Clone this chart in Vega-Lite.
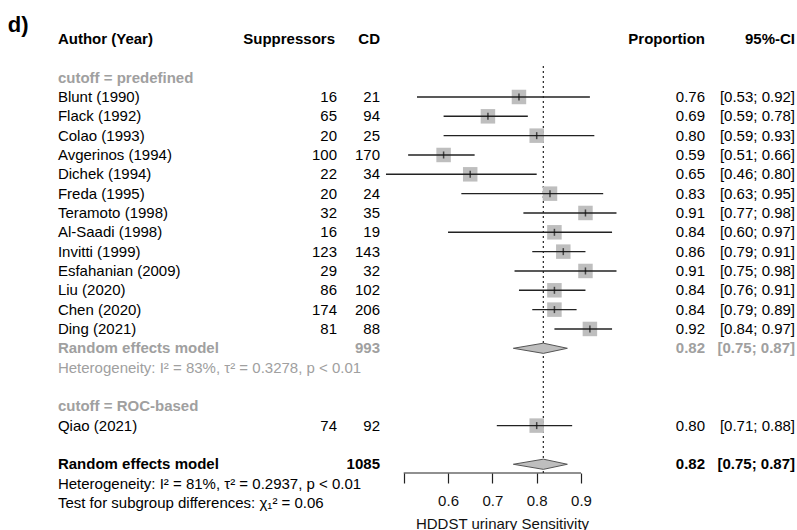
{
  "$schema": "https://vega.github.io/schema/vega-lite/v6.json",
  "autosize": {"type": "none"},
  "width": 797,
  "height": 473,
  "padding": {"left": 0, "top": 0, "right": 0, "bottom": 57},
  "background": "white",
  "config": {
    "view": {"stroke": null},
    "text": {"font": "Liberation Sans", "fontSize": 15, "baseline": "middle"},
    "axis": {"labelFont": "Liberation Sans", "titleFont": "Liberation Sans", "labelFontSize": 15, "titleFontSize": 15, "labelColor": "#111", "titleColor": "#111", "titleFontWeight": "normal"}
  },
  "datasets": {
    "rows": [
      {"row": 0, "grp": "header", "author": "Author (Year)", "sup": "Suppressors", "cd": "CD", "prop": "Proportion", "ci": "95%-CI"},
      {"row": 2, "grp": "subhead", "author": "cutoff = predefined", "sup": "", "cd": "", "prop": "", "ci": ""},
      {"row": 3, "grp": "study", "author": "Blunt (1990)", "sup": "16", "cd": "21", "prop": "0.76", "ci": "[0.53; 0.92]", "est": 0.76, "lo": 0.53, "hi": 0.92},
      {"row": 4, "grp": "study", "author": "Flack (1992)", "sup": "65", "cd": "94", "prop": "0.69", "ci": "[0.59; 0.78]", "est": 0.69, "lo": 0.59, "hi": 0.78},
      {"row": 5, "grp": "study", "author": "Colao (1993)", "sup": "20", "cd": "25", "prop": "0.80", "ci": "[0.59; 0.93]", "est": 0.80, "lo": 0.59, "hi": 0.93},
      {"row": 6, "grp": "study", "author": "Avgerinos (1994)", "sup": "100", "cd": "170", "prop": "0.59", "ci": "[0.51; 0.66]", "est": 0.59, "lo": 0.51, "hi": 0.66},
      {"row": 7, "grp": "study", "author": "Dichek (1994)", "sup": "22", "cd": "34", "prop": "0.65", "ci": "[0.46; 0.80]", "est": 0.65, "lo": 0.46, "hi": 0.80},
      {"row": 8, "grp": "study", "author": "Freda (1995)", "sup": "20", "cd": "24", "prop": "0.83", "ci": "[0.63; 0.95]", "est": 0.83, "lo": 0.63, "hi": 0.95},
      {"row": 9, "grp": "study", "author": "Teramoto (1998)", "sup": "32", "cd": "35", "prop": "0.91", "ci": "[0.77; 0.98]", "est": 0.91, "lo": 0.77, "hi": 0.98},
      {"row": 10, "grp": "study", "author": "Al-Saadi (1998)", "sup": "16", "cd": "19", "prop": "0.84", "ci": "[0.60; 0.97]", "est": 0.84, "lo": 0.60, "hi": 0.97},
      {"row": 11, "grp": "study", "author": "Invitti (1999)", "sup": "123", "cd": "143", "prop": "0.86", "ci": "[0.79; 0.91]", "est": 0.86, "lo": 0.79, "hi": 0.91},
      {"row": 12, "grp": "study", "author": "Esfahanian (2009)", "sup": "29", "cd": "32", "prop": "0.91", "ci": "[0.75; 0.98]", "est": 0.91, "lo": 0.75, "hi": 0.98},
      {"row": 13, "grp": "study", "author": "Liu (2020)", "sup": "86", "cd": "102", "prop": "0.84", "ci": "[0.76; 0.91]", "est": 0.84, "lo": 0.76, "hi": 0.91},
      {"row": 14, "grp": "study", "author": "Chen (2020)", "sup": "174", "cd": "206", "prop": "0.84", "ci": "[0.79; 0.89]", "est": 0.84, "lo": 0.79, "hi": 0.89},
      {"row": 15, "grp": "study", "author": "Ding (2021)", "sup": "81", "cd": "88", "prop": "0.92", "ci": "[0.84; 0.97]", "est": 0.92, "lo": 0.84, "hi": 0.97},
      {"row": 16, "grp": "re_sub", "author": "Random effects model", "sup": "", "cd": "993", "prop": "0.82", "ci": "[0.75; 0.87]", "est": 0.815, "lo": 0.75, "hi": 0.87},
      {"row": 17, "grp": "het_sub", "author": "Heterogeneity: I² = 83%, τ² = 0.3278, p < 0.01", "sup": "", "cd": "", "prop": "", "ci": ""},
      {"row": 19, "grp": "subhead", "author": "cutoff = ROC-based", "sup": "", "cd": "", "prop": "", "ci": ""},
      {"row": 20, "grp": "study", "author": "Qiao (2021)", "sup": "74", "cd": "92", "prop": "0.80", "ci": "[0.71; 0.88]", "est": 0.80, "lo": 0.71, "hi": 0.88},
      {"row": 22, "grp": "re_all", "author": "Random effects model", "sup": "", "cd": "1085", "prop": "0.82", "ci": "[0.75; 0.87]", "est": 0.815, "lo": 0.75, "hi": 0.87},
      {"row": 23, "grp": "het_all", "author": "Heterogeneity: I² = 81%, τ² = 0.2937, p < 0.01", "sup": "", "cd": "", "prop": "", "ci": ""},
      {"row": 24, "grp": "het_all", "author": "Test for subgroup differences: χ₁² = 0.06", "sup": "", "cd": "", "prop": "", "ci": ""}
    ]
  },
  "data": {"name": "rows"},
  "layer": [
    {
      "data": {"values": [{"tag": "d)"}]},
      "mark": {"type": "rule", "strokeDash": [2, 3], "color": "#333", "strokeWidth": 1.3},
      "encoding": {
        "x": {"datum": 0.815, "type": "quantitative", "scale": {"domain": [-0.4107, 1.3872], "nice": false, "zero": false}},
        "y": {"datum": 1.4, "type": "quantitative", "scale": {"domain": [-2.0176, 22.452], "reverse": true, "nice": false, "zero": false}, "axis": null},
        "y2": {"datum": 22.452}
      }
    },
    {
      "data": {"values": [{"tag": "d)"}]},
      "mark": {"type": "rule", "color": "#222", "strokeWidth": 1.2},
      "encoding": {
        "x": {"datum": 0.5, "type": "quantitative"},
        "x2": {"datum": 0.9},
        "y": {"datum": 22.452, "type": "quantitative", "axis": null}
      }
    },
    {
      "data": {"values": [{"tag": "d)"}]},
      "mark": {"type": "text", "align": "left", "fontWeight": "bold", "fontSize": 22, "color": "#000"},
      "encoding": {"text": {"field": "tag", "type": "nominal"}, "x": {"datum": -0.393, "type": "quantitative"}, "y": {"datum": -0.7, "type": "quantitative", "axis": null}}
    },
    {
      "transform": [{"filter": {"field": "grp", "equal": "study"}}],
      "mark": {"type": "point", "shape": "square", "filled": true, "color": "#BEBEBE", "opacity": 1, "size": 210},
      "encoding": {"x": {"field": "est", "type": "quantitative"}, "y": {"field": "row", "type": "quantitative", "axis": null}}
    },
    {
      "transform": [{"filter": {"field": "grp", "equal": "study"}}],
      "mark": {"type": "rule", "color": "#222", "strokeWidth": 1.4},
      "encoding": {
        "x": {"field": "lo", "type": "quantitative", "axis": {"values": [0.5, 0.6, 0.7, 0.8, 0.9], "labelExpr": "datum.value < 0.55 ? '' : format(datum.value, '.1f')", "domain": false, "grid": false, "tickSize": 10, "tickColor": "#222", "tickWidth": 1.2, "labelFontSize": 15, "labelColor": "#111", "labelPadding": 10, "title": "HDDST urinary Sensitivity", "titleFontSize": 15, "titleFontWeight": "normal", "titleColor": "#111", "titleX": 502, "titleY": 50, "titleAlign": "center", "titleBaseline": "middle"}},
        "x2": {"field": "hi"},
        "y": {"field": "row", "type": "quantitative", "axis": null}
      }
    },
    {
      "transform": [{"filter": {"field": "grp", "equal": "study"}}],
      "mark": {"type": "tick", "orient": "vertical", "color": "#111", "size": 7, "thickness": 1.5},
      "encoding": {"x": {"field": "est", "type": "quantitative"}, "y": {"field": "row", "type": "quantitative", "axis": null}}
    },
    {
      "transform": [{"filter": {"field": "grp", "oneOf": ["re_sub", "re_all"]}}],
      "mark": {"type": "point", "shape": "M -1 0 L 0 -0.17 L 0.8 0 L 0 0.17 Z", "filled": true, "fill": "#BEBEBE", "stroke": "#555", "strokeWidth": 1, "opacity": 1, "size": 3600},
      "encoding": {"x": {"field": "est", "type": "quantitative"}, "y": {"field": "row", "type": "quantitative", "axis": null}}
    },
    {
      "transform": [{"filter": {"field": "grp", "oneOf": ["header", "subhead", "re_sub", "re_all"]}}],
      "mark": {"type": "text", "align": "left", "fontWeight": "bold"},
      "encoding": {"text": {"field": "author", "type": "nominal"}, "x": {"datum": -0.28, "type": "quantitative"}, "y": {"field": "row", "type": "quantitative", "axis": null},
        "color": {"field": "grp", "type": "nominal", "legend": null, "scale": {"domain": ["header", "study", "subhead", "re_sub", "het_sub", "re_all", "het_all"], "range": ["#000", "#000", "#A0A0A0", "#A0A0A0", "#A0A0A0", "#000", "#000"]}}}
    },
    {
      "transform": [{"filter": {"field": "grp", "oneOf": ["header", "subhead", "re_sub", "re_all"]}}],
      "mark": {"type": "text", "align": "right", "fontWeight": "bold"},
      "encoding": {"text": {"field": "sup", "type": "nominal"}, "x": {"datum": 0.345, "type": "quantitative"}, "y": {"field": "row", "type": "quantitative", "axis": null},
        "color": {"field": "grp", "type": "nominal", "legend": null}}
    },
    {
      "transform": [{"filter": {"field": "grp", "oneOf": ["header", "subhead", "re_sub", "re_all"]}}],
      "mark": {"type": "text", "align": "right", "fontWeight": "bold"},
      "encoding": {"text": {"field": "cd", "type": "nominal"}, "x": {"datum": 0.4465, "type": "quantitative"}, "y": {"field": "row", "type": "quantitative", "axis": null},
        "color": {"field": "grp", "type": "nominal", "legend": null}}
    },
    {
      "transform": [{"filter": {"field": "grp", "oneOf": ["header", "subhead", "re_sub", "re_all"]}}],
      "mark": {"type": "text", "align": "right", "fontWeight": "bold"},
      "encoding": {"text": {"field": "prop", "type": "nominal"}, "x": {"datum": 1.1797, "type": "quantitative"}, "y": {"field": "row", "type": "quantitative", "axis": null},
        "color": {"field": "grp", "type": "nominal", "legend": null}}
    },
    {
      "transform": [{"filter": {"field": "grp", "oneOf": ["header", "subhead", "re_sub", "re_all"]}}],
      "mark": {"type": "text", "align": "right", "fontWeight": "bold"},
      "encoding": {"text": {"field": "ci", "type": "nominal"}, "x": {"datum": 1.3827, "type": "quantitative"}, "y": {"field": "row", "type": "quantitative", "axis": null},
        "color": {"field": "grp", "type": "nominal", "legend": null}}
    },
    {
      "transform": [{"filter": {"field": "grp", "oneOf": ["study", "het_sub", "het_all"]}}],
      "mark": {"type": "text", "align": "left"},
      "encoding": {"text": {"field": "author", "type": "nominal"}, "x": {"datum": -0.28, "type": "quantitative"}, "y": {"field": "row", "type": "quantitative", "axis": null},
        "color": {"field": "grp", "type": "nominal", "legend": null}}
    },
    {
      "transform": [{"filter": {"field": "grp", "equal": "study"}}],
      "mark": {"type": "text", "align": "right"},
      "encoding": {"text": {"field": "sup", "type": "nominal"}, "x": {"datum": 0.3495, "type": "quantitative"}, "y": {"field": "row", "type": "quantitative", "axis": null},
        "color": {"field": "grp", "type": "nominal", "legend": null}}
    },
    {
      "transform": [{"filter": {"field": "grp", "equal": "study"}}],
      "mark": {"type": "text", "align": "right"},
      "encoding": {"text": {"field": "cd", "type": "nominal"}, "x": {"datum": 0.4465, "type": "quantitative"}, "y": {"field": "row", "type": "quantitative", "axis": null},
        "color": {"field": "grp", "type": "nominal", "legend": null}}
    },
    {
      "transform": [{"filter": {"field": "grp", "equal": "study"}}],
      "mark": {"type": "text", "align": "right"},
      "encoding": {"text": {"field": "prop", "type": "nominal"}, "x": {"datum": 1.1797, "type": "quantitative"}, "y": {"field": "row", "type": "quantitative", "axis": null},
        "color": {"field": "grp", "type": "nominal", "legend": null}}
    },
    {
      "transform": [{"filter": {"field": "grp", "equal": "study"}}],
      "mark": {"type": "text", "align": "right"},
      "encoding": {"text": {"field": "ci", "type": "nominal"}, "x": {"datum": 1.3827, "type": "quantitative"}, "y": {"field": "row", "type": "quantitative", "axis": null},
        "color": {"field": "grp", "type": "nominal", "legend": null}}
    }
  ]
}
